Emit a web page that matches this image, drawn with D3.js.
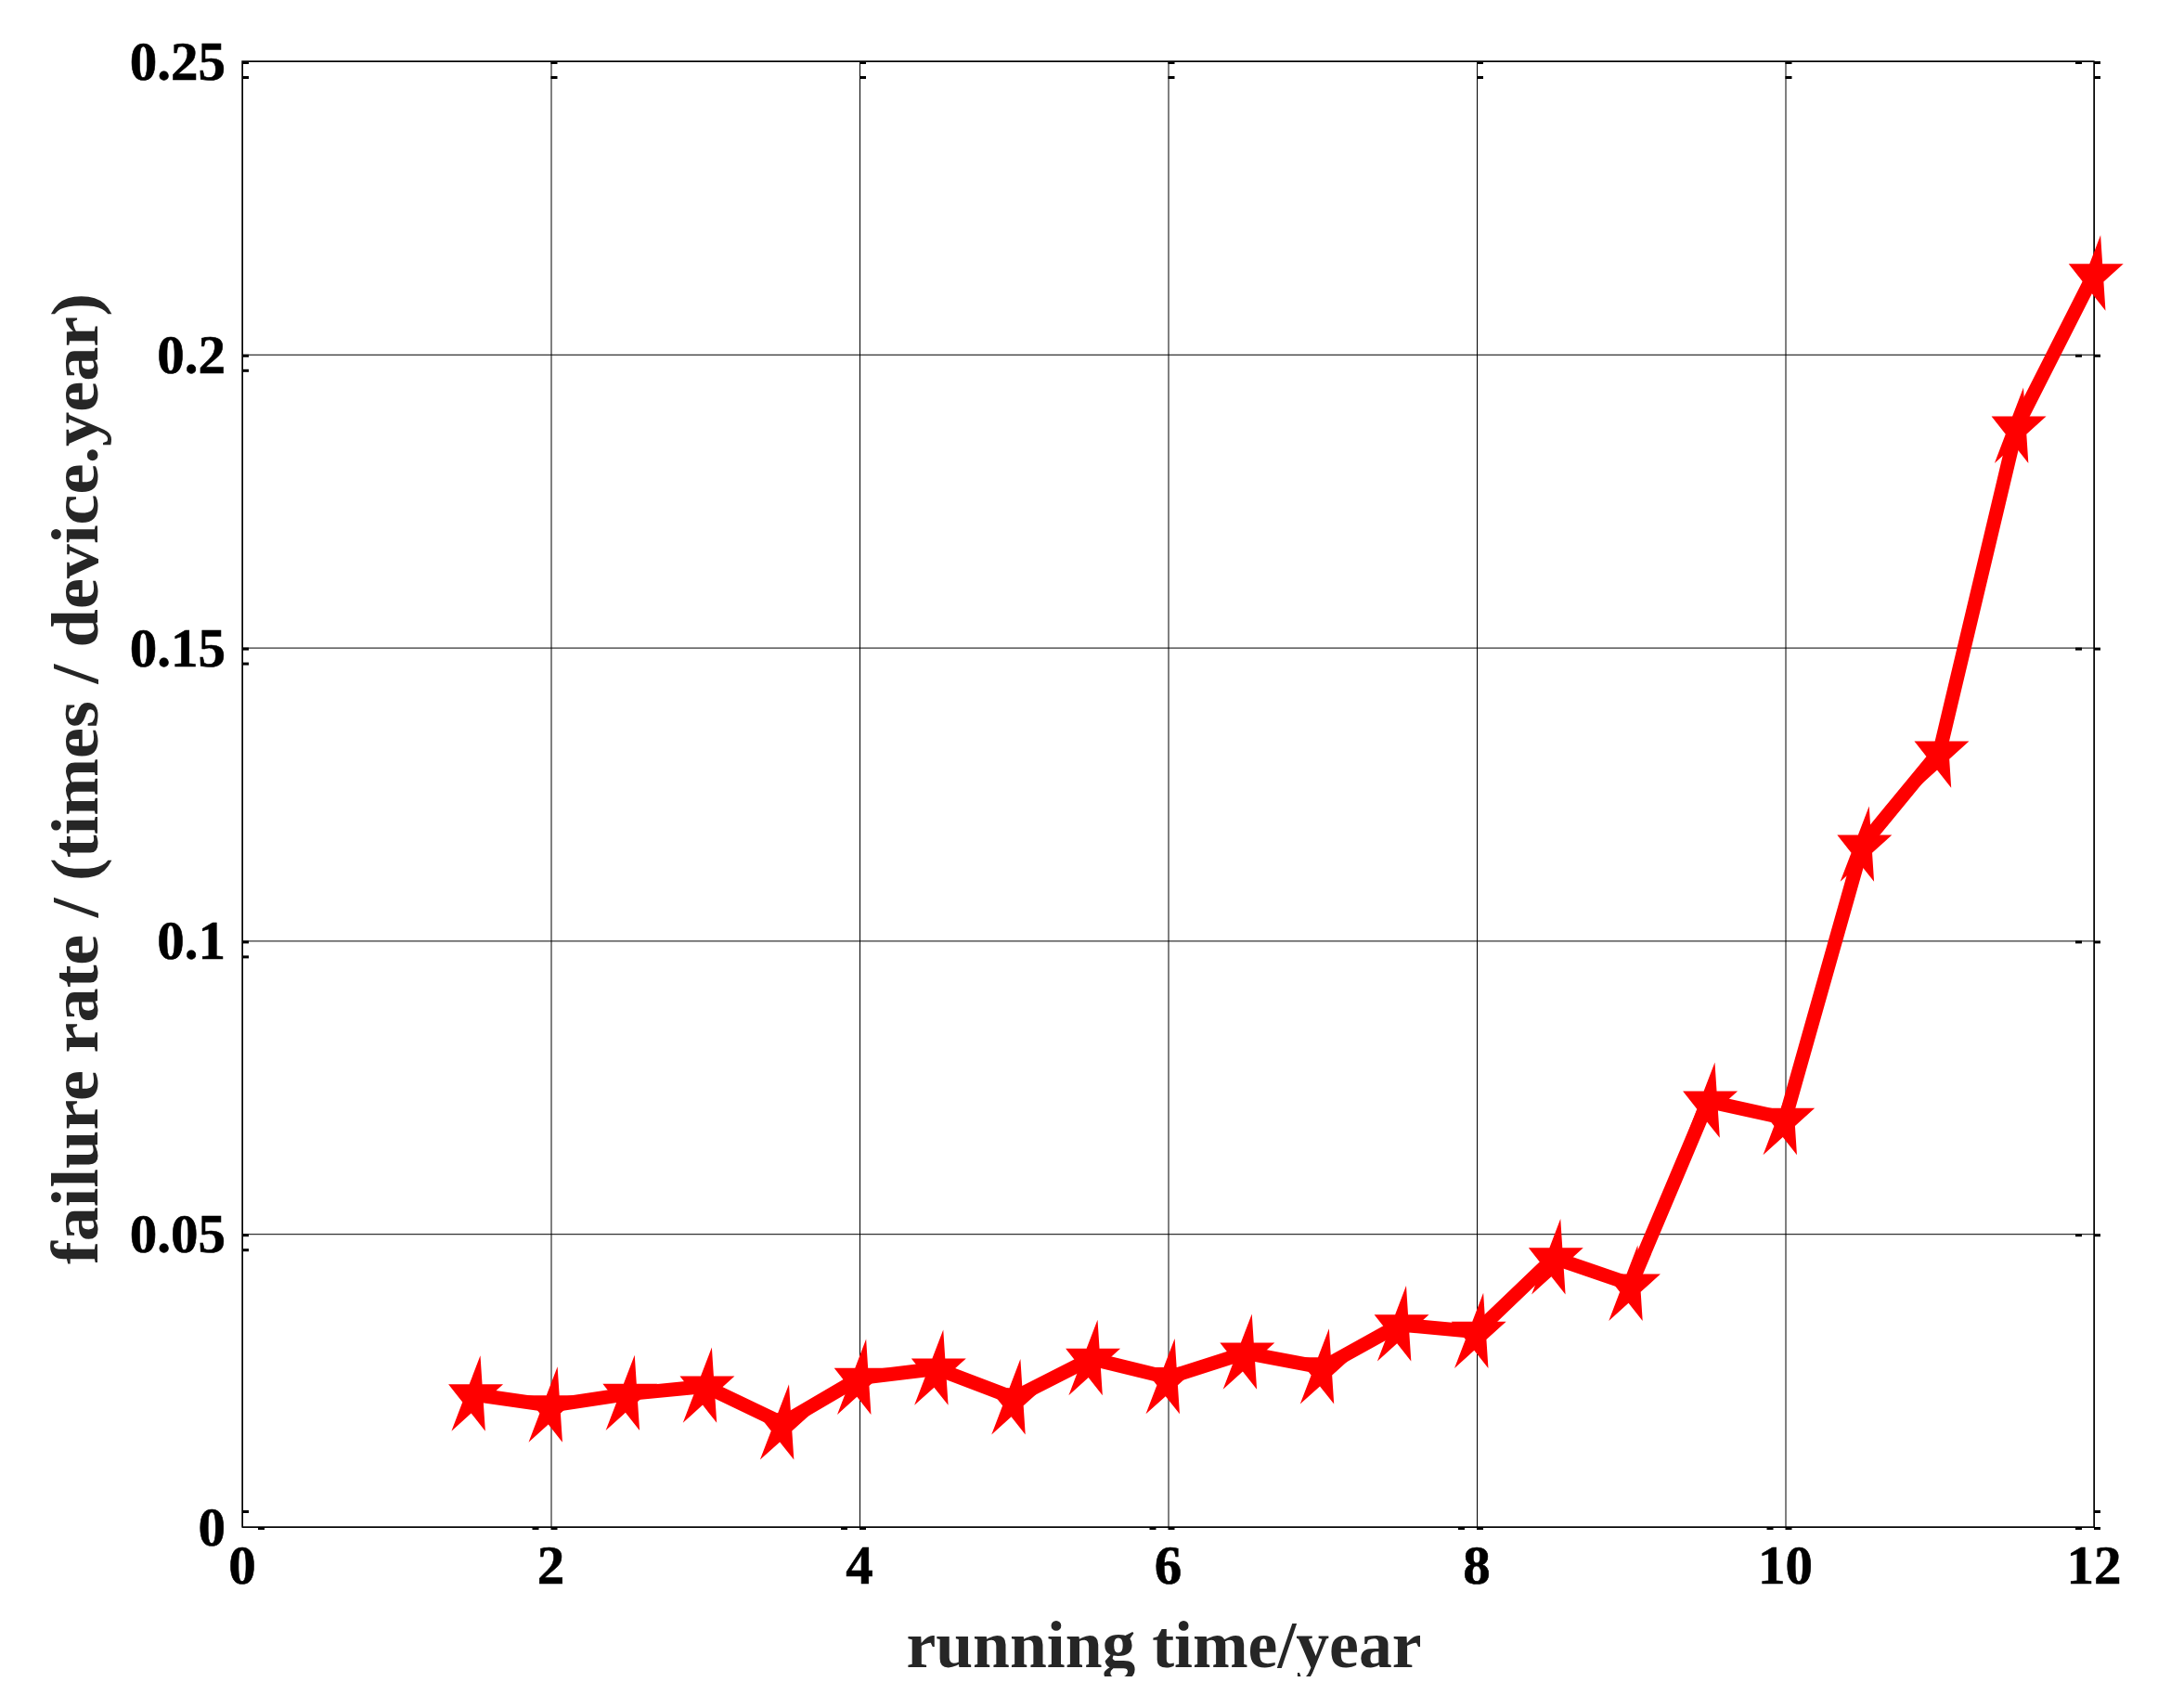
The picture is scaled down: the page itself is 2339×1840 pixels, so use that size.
<!DOCTYPE html>
<html>
<head>
<meta charset="utf-8">
<script src="https://cdn.jsdelivr.net/npm/d3@7"></script>
<style>
  html, body { margin: 0; padding: 0; background: #ffffff; }
  svg { display: block; }
</style>
</head>
<body>
<script>
// ---- data ----
const runningTime = [1.5, 2, 2.5, 3, 3.5, 4, 4.5, 5, 5.5, 6, 6.5, 7, 7.5, 8, 8.5, 9, 9.5, 10, 10.5, 11, 11.5, 12];
const failureRate = [0.0226, 0.0207, 0.0227, 0.0240, 0.0177, 0.0254, 0.0270, 0.0220, 0.0287, 0.0255, 0.0297, 0.0272,
                     0.0345, 0.0333, 0.0459, 0.0414, 0.0726, 0.0697, 0.1163, 0.1323, 0.1877, 0.2137];
const xTicks = [0, 2, 4, 6, 8, 10, 12];
const yTicks = [0, 0.05, 0.1, 0.15, 0.2, 0.25];
const yTickLabels = ["0", "0.05", "0.1", "0.15", "0.2", "0.25"];
const xLabel = "running time/year";
const yLabel = "failure rate / (times / device.year)";

(function () {
const W = 2339, H = 1840;
const pLeft = 261, pRight = 2256, pTop = 66, pBottom = 1645;

const svg = d3.select("body").append("svg").attr("width", W).attr("height", H);
svg.append("rect").attr("width", W).attr("height", H).attr("fill", "#ffffff");

const x = d3.scaleLinear().domain([0, 12]).range([pLeft, pRight]);
const y = d3.scaleLinear().domain([0, 0.25]).range([pBottom, pTop]);

const font = "'Liberation Serif', 'Times New Roman', serif";

// grid via axes
svg.append("g").attr("transform", `translate(0,${pBottom})`)
  .call(d3.axisBottom(x).tickValues(xTicks).tickSize(-(pBottom - pTop)).tickFormat(""))
  .call(g => g.select(".domain").remove())
  .call(g => g.selectAll("line").attr("stroke", "#000").attr("stroke-width", 1));
svg.append("g").attr("transform", `translate(${pLeft},0)`)
  .call(d3.axisLeft(y).tickValues(yTicks).tickSize(-(pRight - pLeft)).tickFormat(""))
  .call(g => g.select(".domain").remove())
  .call(g => g.selectAll("line").attr("stroke", "#000").attr("stroke-width", 1));

// box
svg.append("rect").attr("x", pLeft).attr("y", pTop).attr("width", pRight - pLeft).attr("height", pBottom - pTop)
  .attr("fill", "none").attr("stroke", "#000").attr("stroke-width", 1.4);

// small tick marks (as rendered in reference)
const tk = svg.append("g").attr("fill", "#000");
xTicks.forEach(v => {
  const px = x(v);
  tk.append("rect").attr("x", px).attr("y", pTop).attr("width", 7).attr("height", 3);
  tk.append("rect").attr("x", px).attr("y", pTop + 16).attr("width", 7).attr("height", 3);
  if (v > 0) tk.append("rect").attr("x", px - 20).attr("y", pBottom).attr("width", 7).attr("height", 3);
  tk.append("rect").attr("x", v > 0 ? px : px + 17).attr("y", pBottom).attr("width", 7).attr("height", 3);
});
yTicks.forEach(v => {
  const py = y(v);
  if (v > 0) {
    tk.append("rect").attr("x", pLeft).attr("y", py).attr("width", 7).attr("height", 3);
    tk.append("rect").attr("x", pLeft).attr("y", py + 16).attr("width", 7).attr("height", 3);
    tk.append("rect").attr("x", pRight - 20).attr("y", py).attr("width", 7).attr("height", 3);
    tk.append("rect").attr("x", pRight).attr("y", py).attr("width", 7).attr("height", 3);
  } else {
    tk.append("rect").attr("x", pLeft).attr("y", py - 18).attr("width", 7).attr("height", 3);
    tk.append("rect").attr("x", pRight).attr("y", py - 18).attr("width", 7).attr("height", 3);
  }
});

// tick labels
svg.append("g").selectAll("text").data(xTicks).join("text")
  .attr("x", d => x(d)).attr("y", 1706)
  .attr("text-anchor", "middle")
  .attr("font-family", font).attr("font-weight", "bold").attr("font-size", 59)
  .attr("fill", "#000").attr("stroke", "#000").attr("stroke-width", 0.6).text(d => d);
svg.append("g").selectAll("text").data(yTicks).join("text")
  .attr("x", 243).attr("y", d => y(d) + 20)
  .attr("text-anchor", "end")
  .attr("font-family", font).attr("font-weight", "bold").attr("font-size", 59)
  .attr("fill", "#000").attr("stroke", "#000").attr("stroke-width", 0.6).text((d, i) => yTickLabels[i]);

// axis labels
const clip = svg.append("defs").append("clipPath").attr("id", "pageclip");
clip.append("rect").attr("x", 0).attr("y", 0).attr("width", W).attr("height", 1806);
svg.append("text")
  .attr("clip-path", "url(#pageclip)")
  .attr("x", 1254).attr("y", 1796)
  .attr("text-anchor", "middle")
  .attr("font-family", font).attr("font-weight", "bold").attr("font-size", 72)
  .attr("textLength", 555).attr("lengthAdjust", "spacingAndGlyphs")
  .attr("fill", "#262626").text(xLabel);
svg.append("text")
  .attr("transform", `translate(105, 839) rotate(-90)`)
  .attr("text-anchor", "middle")
  .attr("font-family", font).attr("font-weight", "bold").attr("font-size", 72)
  .attr("textLength", 1046).attr("lengthAdjust", "spacingAndGlyphs")
  .attr("fill", "#262626").text(yLabel);

// data line
const pts = runningTime.map((t, i) => [t, failureRate[i]]);
svg.append("path")
  .datum(pts)
  .attr("d", d3.line().x(d => x(d[0])).y(d => y(d[1])))
  .attr("fill", "none").attr("stroke", "#ff0000").attr("stroke-width", 15)
  .attr("stroke-linejoin", "miter").attr("stroke-miterlimit", 3);

// star markers
function starPath() {
  const p = [];
  for (let k = 0; k < 10; k++) {
    const a = -Math.PI / 2 + k * Math.PI / 5;
    const r = k % 2 === 0 ? 1 : 0.382;
    p.push([r * Math.cos(a), r * Math.sin(a)]);
  }
  return "M" + p.map(q => q.join(",")).join("L") + "Z";
}
const sp = starPath();
svg.append("g").selectAll("path").data(pts).join("path")
  .attr("d", sp)
  .attr("transform", d => `translate(${x(d[0])},${y(d[1]) + 3}) skewX(-9) scale(31,45)`)
  .attr("fill", "#ff0000");
})();
</script>
</body>
</html>
